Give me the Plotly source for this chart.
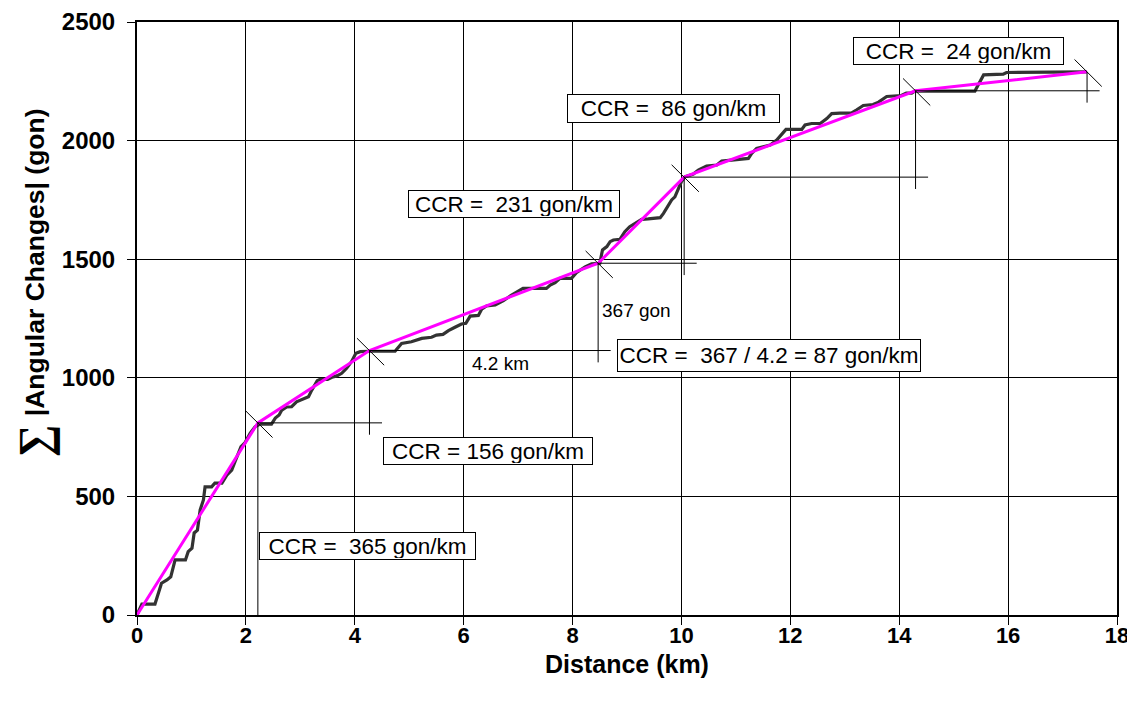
import plotly.graph_objects as go

# ---- data ----
dist_km = [0, 0.09, 0.33, 0.45, 0.55, 0.62, 0.70, 0.89, 0.94, 1.01, 1.05, 1.11, 1.16, 1.22, 1.25,
           1.37, 1.43, 1.56, 1.65, 1.74, 1.80, 1.91, 1.98, 2.08, 2.17, 2.26, 2.47, 2.54, 2.61, 2.66,
           2.75, 2.84, 2.93, 3.02, 3.15, 3.21, 3.31, 3.36, 3.50, 3.58, 3.67, 3.76, 3.85, 3.94, 4.02,
           4.10, 4.28, 4.74, 4.86, 5.04, 5.23, 5.41, 5.50, 5.62, 5.72, 5.84, 5.96, 6.04, 6.12, 6.27,
           6.33, 6.42, 6.58, 6.73, 6.88, 7.09, 7.52, 7.59, 7.68, 7.77, 7.98, 8.07, 8.23, 8.35, 8.50,
           8.55, 8.63, 8.69, 8.75, 8.87, 8.96, 9.05, 9.15, 9.27, 9.39, 9.61, 9.67, 9.72, 9.82, 9.88,
           9.94, 10.00, 10.07, 10.22, 10.31, 10.46, 10.65, 10.74, 10.92, 11.08, 11.23, 11.29, 11.38,
           11.50, 11.63, 11.75, 11.84, 11.92, 12.21, 12.27, 12.39, 12.55, 12.67, 12.76, 12.91, 13.12,
           13.22, 13.34, 13.52, 13.62, 13.77, 13.92, 14.04, 14.13, 14.23, 14.29, 15.39, 15.45, 15.55,
           15.91, 15.97, 17.44]
angle_sum = [0, 46, 46, 134, 148, 161, 232, 232, 267, 282, 346, 358, 443, 485, 540,
             540, 556, 556, 590, 611, 646, 710, 725, 767, 794, 805, 805, 830, 843, 864,
             877, 878, 899, 909, 920, 948, 988, 993, 993, 1002, 1008, 1019, 1040, 1068, 1103,
             1110, 1112, 1112, 1145, 1152, 1166, 1171, 1180, 1183, 1199, 1213, 1227, 1230, 1260, 1263,
             1289, 1303, 1307, 1325, 1349, 1377, 1377, 1391, 1401, 1419, 1419, 1443, 1468, 1480, 1483,
             1539, 1553, 1574, 1581, 1584, 1616, 1637, 1651, 1668, 1670, 1675, 1693, 1714, 1750, 1763,
             1798, 1827, 1848, 1859, 1876, 1893, 1897, 1914, 1918, 1921, 1925, 1946, 1967,
             1974, 1981, 2002, 2024, 2047, 2047, 2066, 2072, 2072, 2093, 2114, 2116, 2116,
             2130, 2148, 2152, 2162, 2186, 2190, 2190, 2200, 2200, 2209, 2209, 2234, 2277,
             2280, 2287, 2290]

ccr_km = [0, 2.22, 4.27, 8.47, 10.05, 14.30, 17.45]
ccr_gon = [0, 810, 1115, 1483, 1846, 2210, 2290]

x_ticks = list(range(0, 19, 2))
y_ticks = list(range(0, 2501, 500))

box_texts = ["CCR =  365 gon/km", "CCR = 156 gon/km", "CCR =  367 / 4.2 = 87 gon/km",
             "CCR =  231 gon/km", "CCR =  86 gon/km", "CCR =  24 gon/km"]
box_x = [4.24, 6.45, 11.61, 6.93, 9.85, 15.09]
box_y = [291, 691, 1092, 1733, 2137, 2378]
box_w = [217, 210, 304, 212, 213, 211]
box_h = [28, 28, 33, 28, 29, 28]

plain_texts = ["4.2 km", "367 gon"]
plain_x = [6.67, 9.18]
plain_y = [1062, 1282]

FONT = "Arial, Liberation Sans, sans-serif"

fig = go.Figure()
fig.add_trace(go.Scatter(x=dist_km, y=angle_sum, mode="lines",
                         line=dict(color="#333333", width=3.2), hoverinfo="skip"))
fig.add_trace(go.Scatter(x=ccr_km, y=ccr_gon, mode="lines",
                         line=dict(color="#ff00ff", width=3), hoverinfo="skip"))

shapes = []
ln = dict(color="black", width=1)
ext_x, ext_y = 0.23, 50
# vertical from first breakpoint to just below the axis
shapes.append(dict(type="line", xref="x", yref="y", x0=ccr_km[1], x1=ccr_km[1],
                   y0=ccr_gon[1], y1=-30, line=ln))
for i in range(1, len(ccr_km) - 1):
    xa, ya, xb, yb = ccr_km[i], ccr_gon[i], ccr_km[i + 1], ccr_gon[i + 1]
    shapes.append(dict(type="line", xref="x", yref="y", x0=xa, x1=xb + ext_x, y0=ya, y1=ya, line=ln))
    shapes.append(dict(type="line", xref="x", yref="y", x0=xb, x1=xb, y0=yb, y1=ya - ext_y, line=ln))
for i in range(1, len(ccr_km)):
    xa, ya = ccr_km[i], ccr_gon[i]
    shapes.append(dict(type="line", xref="x", yref="y", x0=xa - 0.23, x1=xa + 0.27,
                       y0=ya + 52, y1=ya - 62, line=ln))

annotations = []
for t, x, y, w, h in zip(box_texts, box_x, box_y, box_w, box_h):
    annotations.append(dict(text=t, x=x, y=y, xref="x", yref="y", showarrow=False,
                            font=dict(family=FONT, size=22.5, color="black"),
                            bgcolor="white", bordercolor="black", borderwidth=1, borderpad=1,
                            width=w - 4, height=h - 4, align="center", valign="middle"))
for t, x, y in zip(plain_texts, plain_x, plain_y):
    annotations.append(dict(text=t, x=x, y=y, xref="x", yref="y", showarrow=False,
                            font=dict(family=FONT, size=19, color="black")))

# y-axis title: big summation sign + text, rotated
annotations.append(dict(
    text="<b>∑</b>", xref="paper", yref="paper", x=-0.105, y=0.293,
    xanchor="center", yanchor="middle", textangle=-90, showarrow=False,
    font=dict(family="Liberation Serif, DejaVu Serif, serif", size=46, color="black")))
annotations.append(dict(
    text="<b>|Angular Changes| (gon)</b>", xref="paper", yref="paper", x=-0.104, y=0.595,
    xanchor="center", yanchor="middle", textangle=-90, showarrow=False,
    font=dict(family=FONT, size=26.5, color="black")))
annotations.append(dict(
    text="<b>Distance (km)</b>", xref="paper", yref="paper", x=0.5, y=-0.083,
    xanchor="center", yanchor="middle", showarrow=False,
    font=dict(family=FONT, size=25, color="black")))

fig.update_layout(
    width=1135, height=701,
    margin=dict(l=129, r=26, t=14, b=94, autoexpand=False),
    paper_bgcolor="white", plot_bgcolor="white",
    showlegend=False,
    shapes=shapes, annotations=annotations,
    font=dict(family=FONT, color="black"),
    xaxis=dict(range=[0, 18], tickvals=x_ticks, ticks="outside", ticklen=8, tickcolor="black",
               showgrid=True, gridcolor="black", gridwidth=1, zeroline=False, automargin=False,
               showline=True, linecolor="black", linewidth=2, mirror=True,
               ticklabelstandoff=-8,
               tickfont=dict(family=FONT, size=22, color="black", weight="bold")),
    yaxis=dict(range=[0, 2500], tickvals=y_ticks, ticks="outside", ticklen=8, tickcolor="black",
               showgrid=True, gridcolor="black", gridwidth=1, zeroline=False, automargin=False,
               showline=True, linecolor="black", linewidth=2, mirror=True,
               ticklabelstandoff=7,
               tickfont=dict(family=FONT, size=24, color="black", weight="bold")),
)

fig.write_html("out.html")
